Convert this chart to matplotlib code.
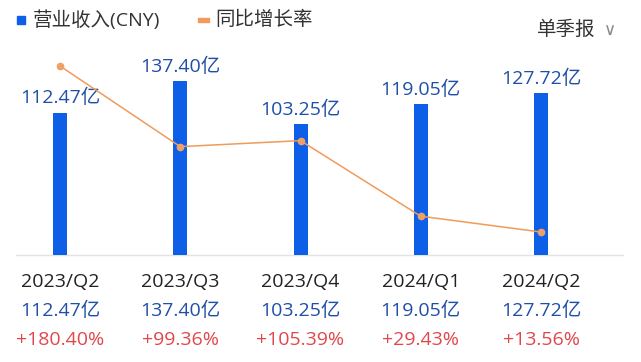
import matplotlib
matplotlib.use('Agg')
import matplotlib.pyplot as plt
import matplotlib.transforms as mtransforms

plt.rcParams['font.family'] = ['Open Sans', 'Noto Sans CJK SC', 'DejaVu Sans']

# Data
quarters = ['2023/Q2', '2023/Q3', '2023/Q4', '2024/Q1', '2024/Q2']
revenue = [112.47, 137.40, 103.25, 119.05, 127.72]   # 亿 CNY
growth = [180.40, 99.36, 105.39, 29.43, 13.56]       # %

BAR_BLUE = '#0d5fe8'
LABEL_BLUE = '#1f4fa6'
LINE_ORANGE = '#f19a5a'
RED = '#e0474c'
FS = 14

W, H = 641, 362
fig = plt.figure(figsize=(W / 100, H / 100), dpi=100)
ax = fig.add_axes([0, 0, 1, 1])
ax.axis('off')

x = list(range(len(quarters)))
step = 120.25
ax.set_xlim(-60 / step, (W - 60) / step)

# revenue axis: 0 at y=254.5px, 1.262 px per 亿
ax.set_ylim(-(H - 254.5) / 1.262, 254.5 / 1.262)
ax.bar(x, revenue, width=14 / step, color=BAR_BLUE, zorder=2)
ax.axhline(0, xmin=16 / W, xmax=623 / W, color='#e3e3e3', lw=1, zorder=1)

for xi, v in zip(x, revenue):
    ax.annotate(f'{v:.2f}亿', (xi, v), xytext=(0, 4), textcoords='offset points',
                ha='center', va='bottom', fontsize=FS, color=LABEL_BLUE)

# growth axis: 0 at y=245.5px, 0.995 px per %
ax2 = ax.twinx()
ax2.axis('off')
ax2.set_ylim(-(H - 245.5) / 0.995, 245.5 / 0.995)
ax2.plot(x, growth, color=LINE_ORANGE, lw=1.1, marker='o', ms=4.5,
         markerfacecolor='#f0a066', markeredgecolor='#f0a066', zorder=3)

# category table below the chart
trans = mtransforms.blended_transform_factory(ax.transData, ax.transAxes)
for xi, q, v, g in zip(x, quarters, revenue, growth):
    ax.text(xi, 1 - 282 / H, q, transform=trans, ha='center', va='center',
            fontsize=FS, color='#222222')
    ax.text(xi, 1 - 311 / H, f'{v:.2f}亿', transform=trans, ha='center', va='center',
            fontsize=FS, color=LABEL_BLUE)
    ax.text(xi, 1 - 340 / H, f'+{g:.2f}%', transform=trans, ha='center', va='center',
            fontsize=FS, color=RED)

# legend / header
fig.patches.append(plt.Rectangle((17 / W, 1 - 24 / H), 8 / W, 8 / H,
                                 transform=fig.transFigure, color=BAR_BLUE))
fig.text(33 / W, 1 - 20 / H, '营业收入(CNY)', ha='left', va='center',
         fontsize=FS, color='#333333')
fig.patches.append(plt.Rectangle((198 / W, 1 - 22 / H), 11 / W, 4 / H,
                                 transform=fig.transFigure, color=LINE_ORANGE))
fig.text(215 / W, 1 - 20 / H, '同比增长率', ha='left', va='center',
         fontsize=FS, color='#333333')
fig.text(537 / W, 1 - 30 / H, '单季报', ha='left', va='center',
         fontsize=FS, color='#333333')
fig.text(604 / W, 1 - 30 / H, '∨', ha='left', va='center',
         fontsize=12, color='#888888', family=['DejaVu Sans'])

fig.savefig('out.png', dpi=100, facecolor='white')
